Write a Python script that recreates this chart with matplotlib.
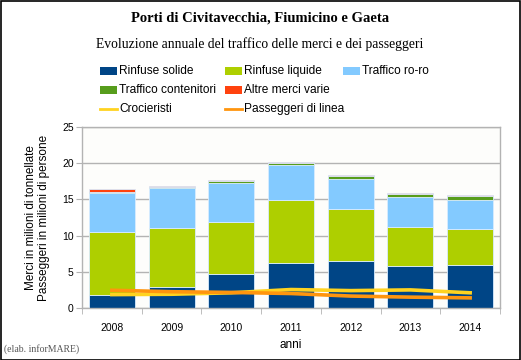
import matplotlib
matplotlib.use('Agg')
import matplotlib.pyplot as plt
import numpy as np
from matplotlib.patches import Rectangle
from matplotlib.lines import Line2D

# dati (milioni)
anni = ['2008', '2009', '2010', '2011', '2012', '2013', '2014']
rinfuse_solide = [1.85, 2.9, 4.65, 6.15, 6.45, 5.75, 5.9]
rinfuse_liquide = [8.65, 8.2, 7.25, 8.8, 7.25, 5.5, 5.0]
traffico_roro = [5.45, 5.5, 5.4, 4.85, 4.1, 4.05, 4.0]
traffico_contenitori = [0.1, 0.15, 0.2, 0.25, 0.5, 0.45, 0.55]
altre_merci = [0.45, 0.1, 0.2, 0.15, 0.1, 0.15, 0.2]
crocieristi = [1.85, 1.9, 2.1, 2.55, 2.4, 2.5, 2.1]
passeggeri_linea = [2.45, 2.25, 2.15, 2.0, 1.65, 1.5, 1.4]

serie = [
    ('Rinfuse solide', rinfuse_solide, '#004586'),
    ('Rinfuse liquide', rinfuse_liquide, '#aecf00'),
    ('Traffico ro-ro', traffico_roro, '#83caff'),
    ('Traffico contenitori', traffico_contenitori, '#579d1c'),
    ('Altre merci varie', altre_merci, '#ff420e'),
]
linee = [
    ('Crocieristi', crocieristi, '#ffd320'),
    ('Passeggeri di linea', passeggeri_linea, '#ff950e'),
]

W, H = 521, 360
plt.rcParams['font.family'] = ['Liberation Sans', 'DejaVu Sans']
fig = plt.figure(figsize=(W / 100, H / 100), dpi=100)
fig.patch.set_facecolor('white')

def px(x, y):
    return (x / W, 1 - y / H)

ax = fig.add_axes([82 / W, 1 - 308 / H, (500 - 82) / W, (308 - 127) / H])
ax.set_facecolor('#fdfdfb')

x = np.arange(len(anni))
bottom = np.zeros(len(anni))
for nome, vals, col in serie:
    ax.bar(x, vals, 0.77, bottom=bottom, color=col, edgecolor='#d8ecff', linewidth=0.6, zorder=2)
    bottom += np.array(vals)
for nome, vals, col in linee:
    ax.plot(x, vals, color=col, lw=2.6, zorder=3)

ax.set_xlim(-0.5, len(anni) - 0.5)
ax.set_ylim(0, 25)
ax.set_yticks([0, 5, 10, 15, 20, 25])
ax.set_xticks(x)
ax.set_xticklabels(anni)
ax.set_xticks(np.arange(-0.5, len(anni)), minor=True)
ax.tick_params(axis='x', which='major', length=0, labelsize=7.5, pad=11)
ax.tick_params(axis='x', which='minor', length=4, color='#b3b3b3')
ax.tick_params(axis='y', length=4, color='#b3b3b3', labelsize=7.5, pad=2)
ax.yaxis.grid(True, color='#b3b3b3', lw=1, zorder=0)
ax.set_axisbelow(True)
for s in ax.spines.values():
    s.set_color('#b3b3b3')
    s.set_linewidth(1)
ax.set_xlabel('anni', fontsize=8.5, labelpad=4)
ax.set_ylabel('Merci in milioni di tonnellate\nPasseggeri in milioni di persone', fontsize=8.5,
              labelpad=9, linespacing=1.05)

fig.text(*px(260, 18), 'Porti di Civitavecchia, Fiumicino e Gaeta', ha='center', va='center',
         family='Liberation Serif', weight='bold', fontsize=10.5)
fig.text(*px(260, 44), 'Evoluzione annuale del traffico delle merci e dei passeggeri', ha='center', va='center',
         family='Liberation Serif', fontsize=9.8)

# legenda disposta come nell'originale
pos = [(100, 71), (225, 71), (343, 71), (100, 90), (225, 90), (100, 109), (225, 109)]
for (nome, vals, col), (lx, ly) in zip(serie + linee, pos):
    if vals is crocieristi or vals is passeggeri_linea:
        fig.add_artist(Line2D([lx / W, (lx + 17) / W], [1 - ly / H, 1 - ly / H], color=col, lw=2,
                              transform=fig.transFigure))
    else:
        x0, y0 = px(lx, ly + 4)
        fig.add_artist(Rectangle((x0, y0), 17 / W, 8 / H, facecolor=col, edgecolor='none',
                                 transform=fig.transFigure))
    fig.text(*px(lx + 19, ly), nome, ha='left', va='center', fontsize=8.6)

fig.text(*px(4, 349), '(elab. inforMARE)', ha='left', va='center', family='Liberation Serif',
         fontsize=7, color='#555555')

fig.add_artist(Rectangle((0.5 / W, 0.5 / H), (W - 1.5) / W, (H - 1.5) / H, fill=False, edgecolor='black',
                         lw=1.2, transform=fig.transFigure))

fig.savefig('out.png', dpi=100)
